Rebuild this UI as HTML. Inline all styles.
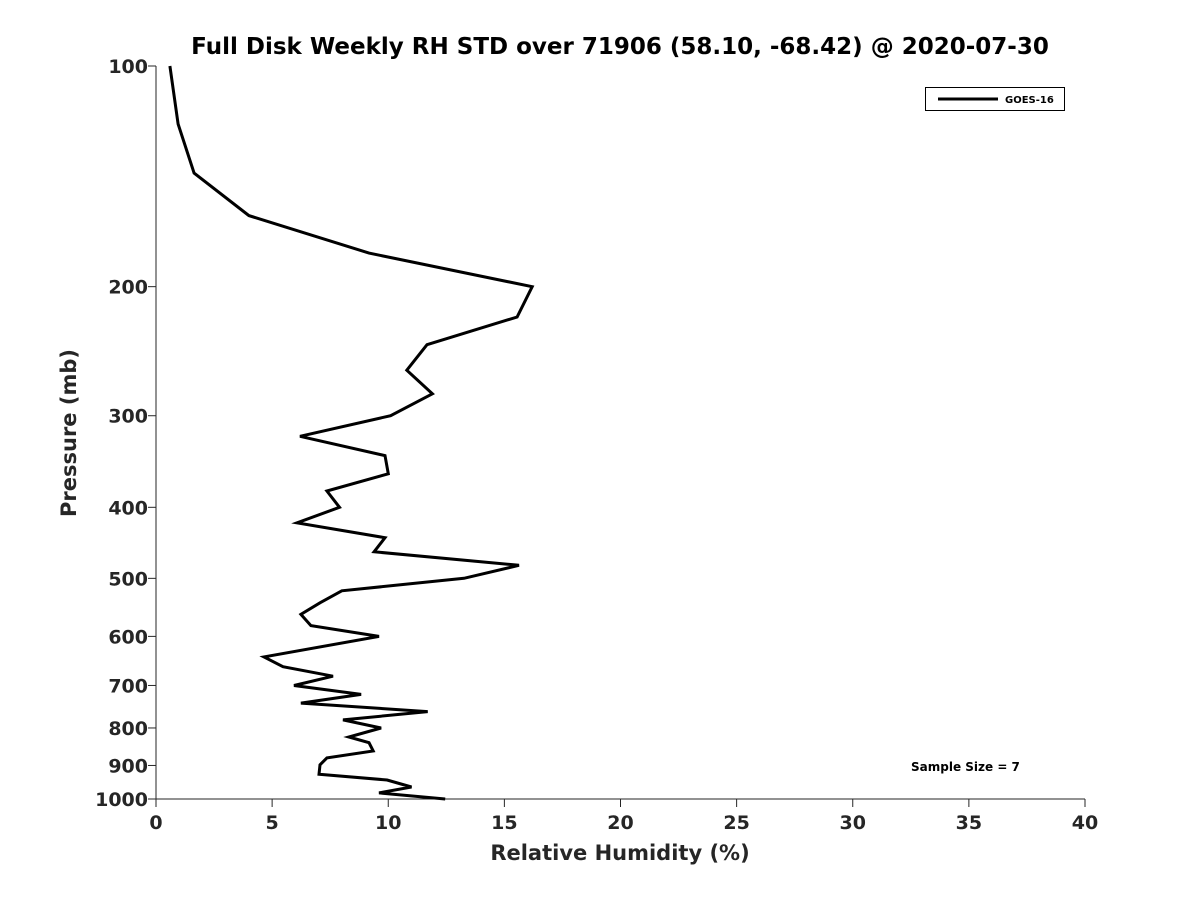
<!DOCTYPE html>
<html><head><meta charset="utf-8"><style>
html,body{margin:0;padding:0;background:#fff;}
svg text{font-family:"DejaVu Sans","Liberation Sans",sans-serif;font-weight:bold;}
</style></head><body>
<svg id="chart" width="1200" height="900" xmlns="http://www.w3.org/2000/svg">
<rect width="1200" height="900" fill="#fff"/>
<text x="620" y="54" text-anchor="middle" font-size="23" fill="#000">Full Disk Weekly RH STD over 71906 (58.10, -68.42) @ 2020-07-30</text>
<g id="axes"></g>
<g id="series"></g>
<g>
<rect x="925.5" y="87.5" width="139" height="23" fill="#fff" stroke="#000" stroke-width="1"/>
<line x1="938" y1="99" x2="998" y2="99" stroke="#000" stroke-width="3"/>
<text x="1005" y="103" font-size="10" fill="#000">GOES-16</text>
</g>
<text x="911" y="771" font-size="12" fill="#000">Sample Size = 7</text>
<text x="620" y="860" text-anchor="middle" font-size="21" fill="#262626">Relative Humidity (%)</text>
<text transform="translate(76,433) rotate(-90)" text-anchor="middle" font-size="21" fill="#262626">Pressure (mb)</text>
</svg>
<script>
const xTicks=[0,5,10,15,20,25,30,35,40];
const yTicks=[100,200,300,400,500,600,700,800,900,1000];
const rhStd=[0.6,0.95,1.64,4.0,9.17,16.2,15.55,11.67,10.8,11.9,10.1,6.2,9.86,10.0,7.36,7.9,6.07,9.86,9.39,15.63,13.26,8.0,7.06,6.24,6.67,9.6,4.65,5.47,7.62,5.94,8.83,6.24,11.7,8.05,9.69,8.3,9.17,9.35,7.36,7.06,7.02,9.95,11.0,9.6,12.45];
const pressure=[100,120,140,160,180,200,220,240,260,280,300,320,340,360,380,400,420,440,460,480,500,520,540,560,580,600,640,660,680,700,720,740,760,780,800,823,838,860,879,898,925,942,963,981,1000];
const L=156,R=1085,T=66,B=799;
function xs(v){return L+(v-0)/(40-0)*(R-L);}
function ys(p){return T+(Math.log10(p)-2)/(3-2)*(B-T);}
const NS="http://www.w3.org/2000/svg";
const axes=document.getElementById('axes');
function mk(tag,attrs,parent){const e=document.createElementNS(NS,tag);for(const k in attrs)e.setAttribute(k,attrs[k]);parent.appendChild(e);return e;}
let a=mk('line',{x1:L,y1:B,x2:R,y2:B,stroke:'#262626','stroke-width':1},axes);


a=mk('line',{x1:L,y1:T,x2:L,y2:B,stroke:'#262626','stroke-width':1},axes);


xTicks.forEach(v=>{
 const x=xs(v);
 const t=mk('line',{x1:x,y1:B,x2:x,y2:B+8,stroke:'#262626','stroke-width':1},axes);
 
 
 const tx=mk('text',{x:x,y:B+30,'text-anchor':'middle','font-size':19,fill:'#262626'},axes);
 tx.textContent=v;
 
 
});
yTicks.forEach(p=>{
 const y=ys(p);
 const t=mk('line',{x1:L-8,y1:y,x2:L,y2:y,stroke:'#262626','stroke-width':1},axes);
 
 
 const tx=mk('text',{x:L-8,y:y+7,'text-anchor':'end','font-size':19,fill:'#262626'},axes);
 tx.textContent=p;
 
 
});
const pts=rhStd.map((v,i)=>xs(v).toFixed(1)+','+ys(pressure[i]).toFixed(1)).join(' ');
const line=mk('polyline',{points:pts,fill:'none',stroke:'#000','stroke-width':3,'stroke-linejoin':'miter'},document.getElementById('series'));


</script>
</body></html>
